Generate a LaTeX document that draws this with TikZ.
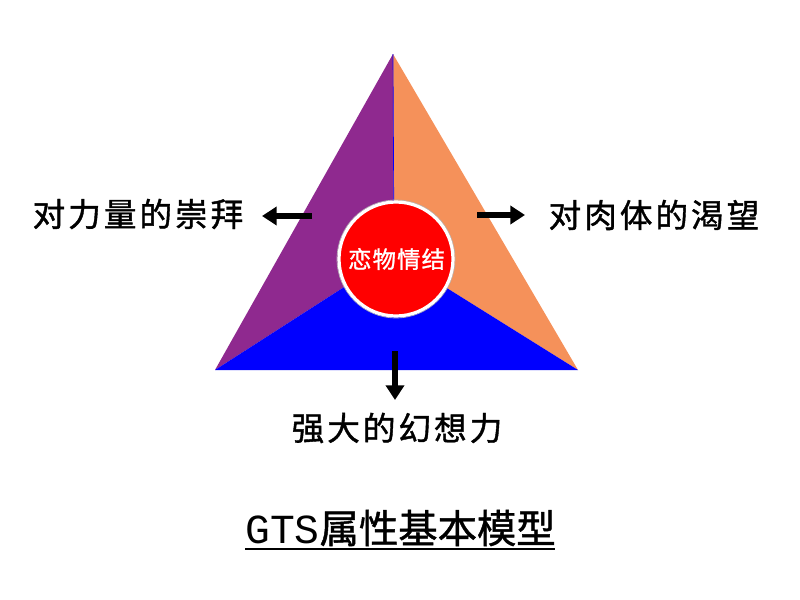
\documentclass[tikz,border=0pt]{standalone}
\usepackage{fontspec}
\setmainfont{Noto Sans CJK SC}
\newfontfamily\cjk[FakeBold=1.2]{Noto Sans CJK SC}
\newfontfamily\monofam{Liberation Mono}
\usetikzlibrary{arrows.meta}
\definecolor{gtspurple}{RGB}{143,41,143}
\definecolor{gtsorange}{RGB}{245,145,90}
\definecolor{gtsblue}{RGB}{0,0,255}
\definecolor{gtsred}{RGB}{255,0,0}
\tikzset{
  label text/.style={font=\cjk\fontsize{24.5pt}{26pt}\selectfont\addfontfeature{LetterSpace=9}, inner sep=0pt},
  fat arrow/.style={line width=5.2pt, -{Triangle[length=11pt,width=13.5pt]}},
}
\begin{document}
\begin{tikzpicture}[x=0.75pt,y=-0.75pt]
\useasboundingbox (0,0) rectangle (800,600);
% triangle vertices
\coordinate (apex) at (393,54);
\coordinate (bl) at (215,370);
\coordinate (br) at (578,370);
\coordinate (ctr) at (394,255);
\fill[gtspurple] (apex) -- (ctr) -- (bl) -- cycle;
\fill[gtsorange] (apex) -- (br) -- (ctr) -- cycle;
\fill[gtsblue] (bl) -- (ctr) -- (br) -- cycle;
\draw[gtsblue, line width=0.5pt] (apex) -- (ctr);
% circle
\node[circle, minimum size=118*0.75pt, inner sep=0pt, draw=gray!60, line width=0.5pt] (ringout) at (396,259) {};
\node[circle, fill=gtsred, draw=white, line width=2.4pt, minimum size=114*0.75pt, inner sep=0pt,
  font=\cjk\fontsize{17.5pt}{19pt}\selectfont\addfontfeature{LetterSpace=5}, text=white] (core) at (396,259) {\hspace{0.9pt}恋物情结};
% labels
\node[label text] (left) at (138,214) {对力量的崇拜};
\node[label text] (right) at (654,215) {对肉体的渴望};
\node[label text] (bottom) at (397,428) {强大的幻想力};
% arrow anchors
\coordinate (la1) at (312,216);
\coordinate (la2) at (262,216);
\coordinate (ra1) at (477,215);
\coordinate (ra2) at (525,215);
\coordinate (da1) at (395,351);
\coordinate (da2) at (395,400);
\draw[fat arrow] (la1) -- (la2);
\draw[fat arrow] (ra1) -- (ra2);
\draw[fat arrow] (da1) -- (da2);
% title
\node[inner sep=0pt, anchor=base west] (title) at (245,543) {{\monofam\fontsize{31pt}{32pt}\selectfont GTS}{\cjk\fontsize{29.5pt}{32pt}\selectfont 属性基本模型}};
\coordinate (ul1) at (245,549);
\coordinate (ul2) at (555,549);
\draw[line width=1.6pt] (ul1) -- (ul2);
\end{tikzpicture}
\end{document}
